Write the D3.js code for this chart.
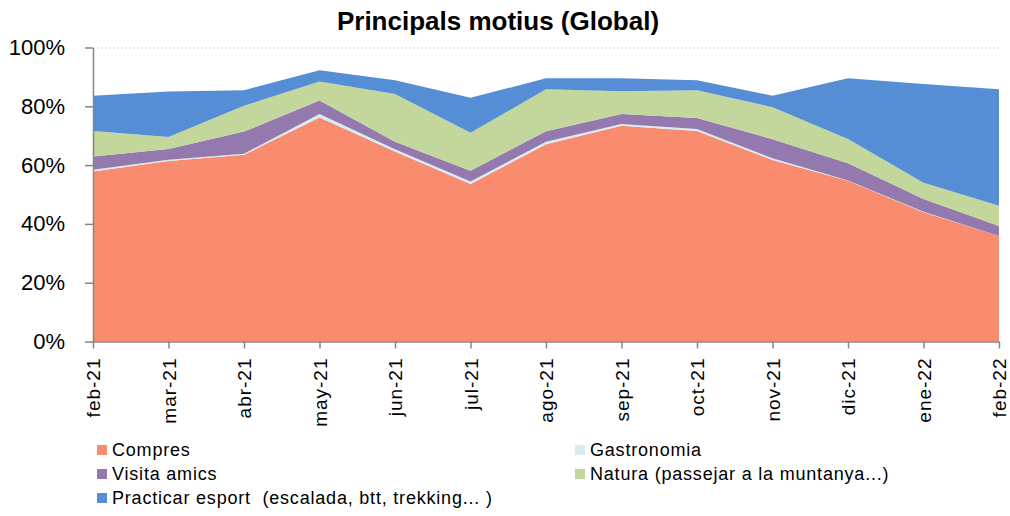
<!DOCTYPE html>
<html>
<head>
<meta charset="utf-8">
<script src="https://cdn.jsdelivr.net/npm/d3@7"></script>
<style>
  body { margin: 0; background: #fff; }
  svg { display: block; }
  .axis path, .axis line { stroke: #868686; stroke-width: 1.5; }
  .grid line { stroke: #d9d9d9; stroke-dasharray: 2,2; }
  .grid path { display: none; }
</style>
</head>
<body>
<div id="chart"></div>
<script>
// months on the x axis
var months = ["feb-21","mar-21","abr-21","may-21","jun-21","jul-21","ago-21","sep-21","oct-21","nov-21","dic-21","ene-22","feb-22"];

// shares, in %
var compres     = [57.8, 61.4, 63.5, 76.2, 64.6, 53.6, 67.1, 73.4, 71.6, 61.7, 54.7, 44.0, 35.9];
var gastronomia = [0.6, 0.4, 0.4, 1.2, 0.8, 0.8, 0.8, 0.6, 0.7, 0.6, 0.1, 0.1, 0.0];
var visita      = [4.5, 3.7, 7.5, 4.6, 2.5, 3.7, 3.6, 3.4, 3.7, 6.5, 5.8, 4.4, 3.4];
var natura      = [8.7, 4.1, 8.8, 6.4, 16.3, 12.9, 14.3, 7.7, 9.5, 10.9, 8.3, 5.5, 6.9];
var esport      = [12.0, 15.4, 5.3, 3.9, 4.7, 11.9, 3.7, 4.4, 3.4, 3.9, 20.6, 33.6, 39.6];

var seriesNames = ["Compres", "Gastronomia", "Visita amics", "Natura (passejar a la muntanya...)", "Practicar esport  (escalada, btt, trekking... )"];
var seriesColors = ["#f98c6e", "#d7ecf2", "#9479af", "#c3d69b", "#558ed5"];
var yTicks = [0, 20, 40, 60, 80, 100];

var width = 1010, height = 516;
var margin = {top: 47.5, right: 11, bottom: 174.5, left: 93};
var w = width - margin.left - margin.right;
var h = height - margin.top - margin.bottom;

var data = months.map(function(m, i) {
  return {month: m, s0: compres[i], s1: gastronomia[i], s2: visita[i], s3: natura[i], s4: esport[i]};
});
var keys = ["s0","s1","s2","s3","s4"];
var stacked = d3.stack().keys(keys)(data);

var x = d3.scalePoint().domain(months).range([0, w]);
var y = d3.scaleLinear().domain([0, 100]).range([h, 0]);

var svg = d3.select("#chart").append("svg").attr("width", width).attr("height", height);

svg.append("text")
  .attr("x", 498).attr("y", 30)
  .attr("text-anchor", "middle")
  .attr("font-family", "'Liberation Sans', Arial, sans-serif")
  .attr("font-weight", "bold")
  .attr("font-size", 26)
  .text("Principals motius (Global)");

var g = svg.append("g").attr("transform", "translate(" + margin.left + "," + margin.top + ")");

g.append("g").attr("class", "grid")
  .call(d3.axisLeft(y).tickValues(yTicks.slice(1)).tickSize(-w).tickFormat(""));

var area = d3.area()
  .x(function(d) { return x(d.data.month); })
  .y0(function(d) { return y(d[0]); })
  .y1(function(d) { return y(d[1]); });

g.selectAll(".layer").data(stacked).enter().append("path")
  .attr("class", "layer")
  .attr("fill", function(d, i) { return seriesColors[i]; })
  .attr("d", area);

var ax = g.append("g").attr("class", "axis").attr("transform", "translate(0," + h + ")")
  .call(d3.axisBottom(x).tickSizeInner(7).tickSizeOuter(0).tickPadding(8));
ax.selectAll("text")
  .attr("transform", "rotate(-90)")
  .attr("text-anchor", "end")
  .attr("x", -16).attr("y", 0).attr("dy", "0.35em")
  .attr("font-family", "'Liberation Sans', Arial, sans-serif")
  .attr("font-size", 19)
  .attr("letter-spacing", "1px")
  .attr("fill", "#000");

var ay = g.append("g").attr("class", "axis")
  .call(d3.axisLeft(y).tickValues(yTicks).tickSizeInner(8).tickSizeOuter(0).tickPadding(20)
    .tickFormat(function(d) { return d + "%"; }));
ay.selectAll("text")
  .attr("font-family", "'Liberation Sans', Arial, sans-serif")
  .attr("font-size", 22)
  .attr("fill", "#000");

// legend
var legPos = [[97, 450], [575, 450], [97, 474], [575, 474], [97, 498]];
var leg = svg.selectAll(".leg").data(seriesNames).enter().append("g")
  .attr("class", "leg")
  .attr("transform", function(d, i) { return "translate(" + legPos[i][0] + "," + legPos[i][1] + ")"; });
leg.append("rect").attr("x", 0).attr("y", -5).attr("width", 10).attr("height", 10)
  .attr("fill", function(d, i) { return seriesColors[i]; });
leg.append("text").attr("x", 15).attr("y", 0).attr("dy", "0.35em")
  .attr("font-family", "'Liberation Sans', Arial, sans-serif")
  .attr("font-size", 18)
  .attr("letter-spacing", "0.8px")
  .style("white-space", "pre")
  .text(function(d) { return d; });
</script>
</body>
</html>
